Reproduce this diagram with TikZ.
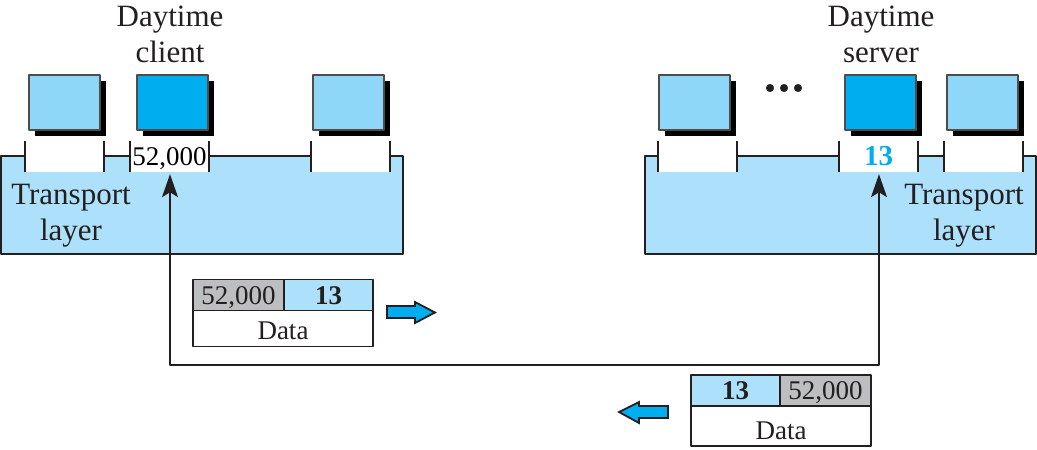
\documentclass[tikz,border=0pt]{standalone}
\usepackage{fontspec}
\setmainfont{Liberation Serif}
\usetikzlibrary{arrows.meta,shadows}
\definecolor{layerblue}{HTML}{ADE1FB}
\definecolor{hostblue}{HTML}{8FD7F9}
\definecolor{activeblue}{HTML}{00AEEF}
\definecolor{headgray}{HTML}{BCBEC0}
\definecolor{linegray}{HTML}{231F20}
\tikzset{
	layerbox/.style={draw=linegray,fill=layerblue,line width=2pt,inner sep=0pt,minimum height=98pt},
	hostbox/.style={draw=linegray!80,fill=hostblue,line width=1.7pt,inner sep=0pt,minimum width=71pt,minimum height=55pt,
		drop shadow={shadow xshift=6pt,shadow yshift=-6pt,fill=black,opacity=1}},
	portbox/.style={fill=white,inner sep=0pt,minimum width=79pt,minimum height=31pt,text height=18pt,text depth=0pt,font=\fontsize{27}{30}\selectfont},
	tick/.style={draw=linegray,line width=1.8pt},
	label/.style={inner sep=0pt,text=linegray,align=center,font=\fontsize{31}{36}\selectfont},
	cell/.style={draw=linegray,line width=1.9pt,inner sep=0pt,minimum height=31pt,text=linegray,text height=18pt,text depth=0pt,font=\fontsize{27}{30}\selectfont},
	datacell/.style={cell,fill=white,minimum width=180pt,minimum height=36pt,text height=22pt},
	blockarrow/.style={draw=linegray,fill=activeblue,line width=1.8pt,line join=miter}
}
\begin{document}
\begin{tikzpicture}[x=1pt,y=-1pt,line join=round]
	\useasboundingbox[fill=white] (0,0) rectangle (1037,450);
	% Couches transport
	\node[layerbox,minimum width=402pt] (clientlayer) at (202,205) {};
	\node[layerbox,minimum width=391pt] (serverlayer) at (840.5,205) {};
	% Ports client
	\node[portbox] (clientport a) at (64.5,156.5) {};
	\node[portbox] (clientport) at (169.5,156.5) {52,000};
	\node[portbox] (clientport c) at (350.5,156.5) {};
	% Ports serveur
	\node[portbox] (serverport a) at (697.5,156.5) {};
	\node[portbox,text=activeblue,font=\fontsize{29}{30}\selectfont\bfseries] (serverport) at (878.5,156.5) {13};
	\node[portbox] (serverport c) at (983.5,156.5) {};
	% Bords des ports
	\foreach \p in {clientport a,clientport,clientport c,serverport a,serverport,serverport c}{
		\draw[tick] (\p.north west)--(\p.south west);
		\draw[tick] (\p.north east)--(\p.south east);
	}
	% Processus client
	\node[hostbox] (clienthost a) at (64.5,102.5) {};
	\node[hostbox,fill=activeblue] (clienthost) at (172.5,102.5) {};
	\node[hostbox] (clienthost c) at (348.5,102.5) {};
	% Processus serveur
	\node[hostbox] (serverhost a) at (694.5,102.5) {};
	\node[hostbox,fill=activeblue] (serverhost) at (880.5,102.5) {};
	\node[hostbox] (serverhost c) at (982.5,102.5) {};
	% Points de suspension
	\filldraw[linegray] (770,88) circle (3.8);
	\filldraw[linegray] (784,88) circle (3.8);
	\filldraw[linegray] (798,88) circle (3.8);
	% Textes
	\node[label] (clientname) at (170,34) {Daytime\\client};
	\node[label] (servername) at (881,34) {Daytime\\server};
	\node[label] (clientlabel) at (71,216) {Transport\\layer};
	\node[label] (serverlabel) at (964,216) {Transport\\layer};
	% Trajet
	\coordinate (bend a) at (170,365);
	\coordinate (bend b) at (879,365);
	\draw[line width=1.9pt,draw=linegray,{Stealth[length=23pt,width=16pt,inset=5pt]}-{Stealth[length=23pt,width=16pt,inset=5pt]},shorten <=2pt,shorten >=2pt]
		(clientport.south -| bend a)--(bend a)--(bend b)--(serverport.south -| bend b);
	% Paquet aller
	\node[cell,fill=headgray,minimum width=91pt] (srcport a) at (238.5,295) {52,000};
	\node[cell,fill=layerblue,minimum width=89pt,font=\fontsize{27}{30}\selectfont\bfseries] (dstport a) at (328.5,295) {13};
	\node[datacell] (data a) at (283,328.5) {Data};
	\filldraw[blockarrow] (387,306)--(415,306)--(415,302)--(435,312.5)--(415,323)--(415,318)--(387,318)--cycle;
	% Paquet retour
	\node[cell,fill=layerblue,minimum width=89pt,font=\fontsize{27}{30}\selectfont\bfseries] (dstport b) at (735.5,390.5) {13};
	\node[cell,fill=headgray,minimum width=91pt] (srcport b) at (825.5,390.5) {52,000};
	\node[datacell,minimum height=40pt,text height=26pt] (data b) at (781,426) {Data};
	\filldraw[blockarrow] (668,406)--(639,406)--(639,402)--(619,412)--(639,423)--(639,418)--(668,418)--cycle;
\end{tikzpicture}
\end{document}
